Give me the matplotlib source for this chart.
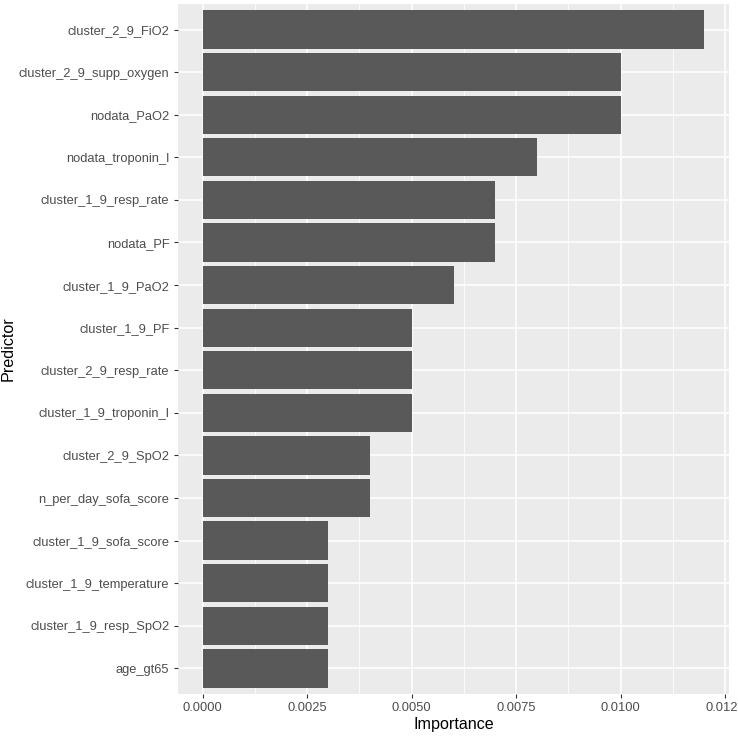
import numpy as np
import matplotlib.pyplot as plt
from matplotlib.ticker import MultipleLocator

plt.rcParams["font.family"] = ["Liberation Sans", "DejaVu Sans"]

# -----------------------
# Data (top to bottom)
# -----------------------
predictors = [
    "cluster_2_9_FiO2",
    "cluster_2_9_supp_oxygen",
    "nodata_PaO2",
    "nodata_troponin_I",
    "cluster_1_9_resp_rate",
    "nodata_PF",
    "cluster_1_9_PaO2",
    "cluster_1_9_PF",
    "cluster_2_9_resp_rate",
    "cluster_1_9_troponin_I",
    "cluster_2_9_SpO2",
    "n_per_day_sofa_score",
    "cluster_1_9_sofa_score",
    "cluster_1_9_temperature",
    "cluster_1_9_resp_SpO2",
    "age_gt65",
]
importance = [0.012, 0.010, 0.010, 0.008, 0.007, 0.007, 0.006, 0.005,
              0.005, 0.005, 0.004, 0.004, 0.003, 0.003, 0.003, 0.003]

# -----------------------
# Figure layout
# -----------------------
fig = plt.figure(figsize=(7.38, 7.36), dpi=100)
ax = fig.add_axes([0.2407, 0.0571, 0.7477, 0.9375])
ax.set_facecolor("#EBEBEB")

n = len(predictors)
ypos = np.arange(n)[::-1]
ax.barh(ypos, importance, height=0.9, color="#595959", zorder=3)

xmax = max(importance)
ax.set_xlim(-0.05 * xmax, 1.05 * xmax)
ax.set_ylim(-0.6, n - 1 + 0.6)

ax.set_yticks(ypos)
ax.set_yticklabels(predictors)
ax.xaxis.set_major_locator(MultipleLocator(0.0025))
ax.xaxis.set_minor_locator(MultipleLocator(0.00125))
ax.xaxis.set_major_formatter(plt.FuncFormatter(lambda v, p: f"{v:.4f}"))

# ggplot-like grid
ax.grid(which="major", axis="both", color="white", linewidth=1.1, zorder=1)
ax.grid(which="minor", axis="x", color="white", linewidth=0.55, zorder=1)
ax.set_axisbelow(True)

for s in ax.spines.values():
    s.set_visible(False)

ax.tick_params(which="major", length=3, width=0.8, color="#333333",
               labelcolor="#4D4D4D", labelsize=9.3, pad=3)
ax.tick_params(which="minor", length=0)

ax.set_xlabel("Importance", fontsize=11.6, color="black", labelpad=2)
ax.set_ylabel("Predictor", fontsize=11.6, color="black")
ax.yaxis.set_label_coords(-0.294, 0.5)

fig.savefig("out.png", dpi=100)
